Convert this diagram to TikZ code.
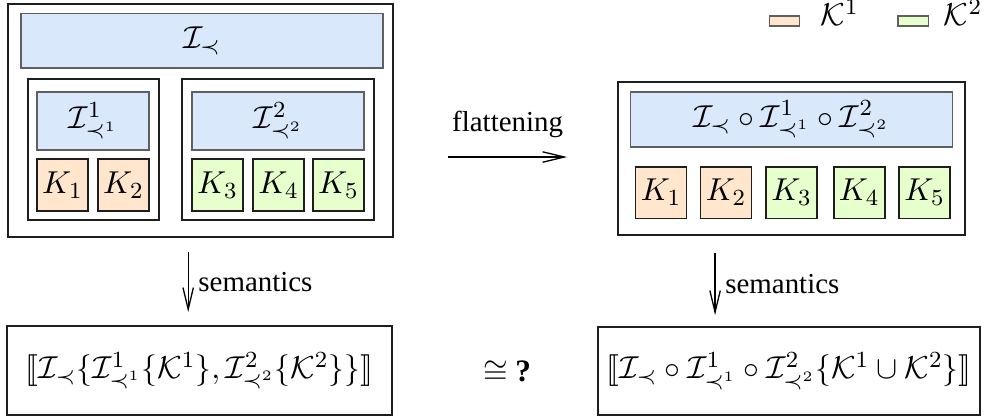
\documentclass[tikz,border=0pt]{standalone}
\usepackage[no-math]{fontspec}
\setmainfont{Liberation Serif}
\usepackage{stmaryrd}
\usepackage{tikz}
\usetikzlibrary{arrows.meta}
\usepackage{xcolor}
\definecolor{ifacefill}{RGB}{218,232,252}
\definecolor{ifaceline}{RGB}{95,95,95}
\definecolor{kone}{RGB}{255,230,204}
\definecolor{ktwo}{RGB}{230,255,204}
\definecolor{boxline}{RGB}{30,30,30}

\tikzset{
  mathtext/.style={font=\fontsize{10.8}{13}\selectfont},
  sysbox/.style={draw=boxline,line width=0.8pt,inner sep=0pt,outer sep=0pt},
  ifacebar/.style={mathtext,draw=ifaceline,fill=ifacefill,line width=0.45pt,inner sep=0pt,outer sep=0pt,minimum height=0.66cm},
  kbox/.style={mathtext,draw=boxline,line width=0.6pt,inner sep=0pt,outer sep=0pt,minimum width=0.62cm,minimum height=0.63cm},
  semanticsbox/.style={mathtext,draw=boxline,line width=0.6pt,inner sep=0pt,outer sep=0pt},
  legendbox/.style={draw=ifaceline,line width=0.45pt,inner sep=0pt,outer sep=0pt,minimum width=0.365cm,minimum height=0.121cm},
  legendtext/.style={mathtext,anchor=base west,inner sep=0pt},
  barb/.style={-{Straight Barb[length=7.5pt,width=3.6pt]},line width=0.45pt}
}

\begin{document}
\begin{tikzpicture}
  % --- page size ---
  \useasboundingbox (0,0) rectangle (12,5.095);
  \fill[white] (0,0) rectangle (12,5.095);

  % --- legend ---
  \node[legendbox,fill=kone] (legone) at (9.534,4.840) {};
  \node[legendtext] (legonetxt) at (9.97,4.779) {$\mathcal{K}^1$};
  \node[legendbox,fill=ktwo] (legtwo) at (11.102,4.840) {};
  \node[legendtext] (legtwotxt) at (11.47,4.779) {$\mathcal{K}^2$};

  % --- nested system (left) ---
  \node[sysbox,minimum width=4.682cm,minimum height=2.833cm] (leftsys) at (2.438,3.630) {};
  \node[ifacebar,minimum width=4.402cm] (itop) at (2.456,4.597) {$\mathcal{I}_{\prec}$};
  \node[sysbox,minimum width=1.593cm,minimum height=1.714cm] (subone) at (1.137,3.277) {};
  \node[sysbox,minimum width=2.335cm,minimum height=1.714cm] (subtwo) at (3.381,3.277) {};
  \node[ifacebar,minimum width=1.362cm,minimum height=0.705cm] (ione) at (1.131,3.624) {$\mathcal{I}^1_{\prec^1}$};
  \node[ifacebar,minimum width=2.091cm,minimum height=0.705cm] (itwo) at (3.381,3.624) {$\mathcal{I}^2_{\prec^2}$};
  \node[kbox,fill=kone] (lk1) at (0.760,2.846) {$K_1$};
  \node[kbox,fill=kone] (lk2) at (1.502,2.846) {$K_2$};
  \node[kbox,fill=ktwo] (lk3) at (2.645,2.846) {$K_3$};
  \node[kbox,fill=ktwo] (lk4) at (3.387,2.846) {$K_4$};
  \node[kbox,fill=ktwo] (lk5) at (4.116,2.846) {$K_5$};

  % --- flattened system (right) ---
  \node[sysbox,minimum width=4.219cm,minimum height=1.861cm] (rightsys) at (9.625,3.168) {};
  \node[ifacebar,minimum width=3.915cm,minimum height=0.668cm] (iflat) at (9.619,3.642)
    {$\mathcal{I}_{\prec}\circ\mathcal{I}^1_{\prec^1}\circ\mathcal{I}^2_{\prec^2}$};
  \node[kbox,fill=kone] (rk1) at (8.038,2.754) {$K_1$};
  \node[kbox,fill=kone] (rk2) at (8.828,2.754) {$K_2$};
  \node[kbox,fill=ktwo] (rk3) at (9.625,2.754) {$K_3$};
  \node[kbox,fill=ktwo] (rk4) at (10.446,2.754) {$K_4$};
  \node[kbox,fill=ktwo] (rk5) at (11.242,2.754) {$K_5$};

  % --- flattening arrow ---
  \coordinate (flatfrom) at (5.448,3.186);
  \coordinate (flatto) at (6.895,3.186);
  \draw[barb] (flatfrom) -- (flatto) node[midway,above=3pt] (flatlbl) {flattening};

  % --- semantics ---
  \node[semanticsbox,minimum width=4.682cm,minimum height=1.082cm] (leftsem) at (2.426,0.590)
    {$\llbracket\mathcal{I}_{\prec}\{\mathcal{I}^1_{\prec^1}\{\mathcal{K}^1\},\mathcal{I}^2_{\prec^2}\{\mathcal{K}^2\}\}\rrbracket$};
  \node[semanticsbox,minimum width=4.645cm,minimum height=1.070cm] (rightsem) at (9.595,0.584)
    {$\llbracket\mathcal{I}_{\prec}\circ\mathcal{I}^1_{\prec^1}\circ\mathcal{I}^2_{\prec^2}\{\mathcal{K}^1\cup\mathcal{K}^2\}\rrbracket$};
  \node[mathtext] (iso) at (6.165,0.572) {$\cong$ \textbf{?}};

  \coordinate (semLfrom) at ([xshift=-0.15cm,yshift=-0.18cm]leftsys.south);
  \draw[barb] (semLfrom) -- ([yshift=0.17cm]semLfrom |- leftsem.north)
    node[midway,right] (semLlbl) {semantics};
  \coordinate (semRfrom) at ([xshift=-0.931cm,yshift=-0.218cm]rightsys.south);
  \draw[barb] (semRfrom) -- ([yshift=0.146cm]semRfrom |- rightsem.north)
    node[midway,right] (semRlbl) {semantics};

\end{tikzpicture}
\end{document}
